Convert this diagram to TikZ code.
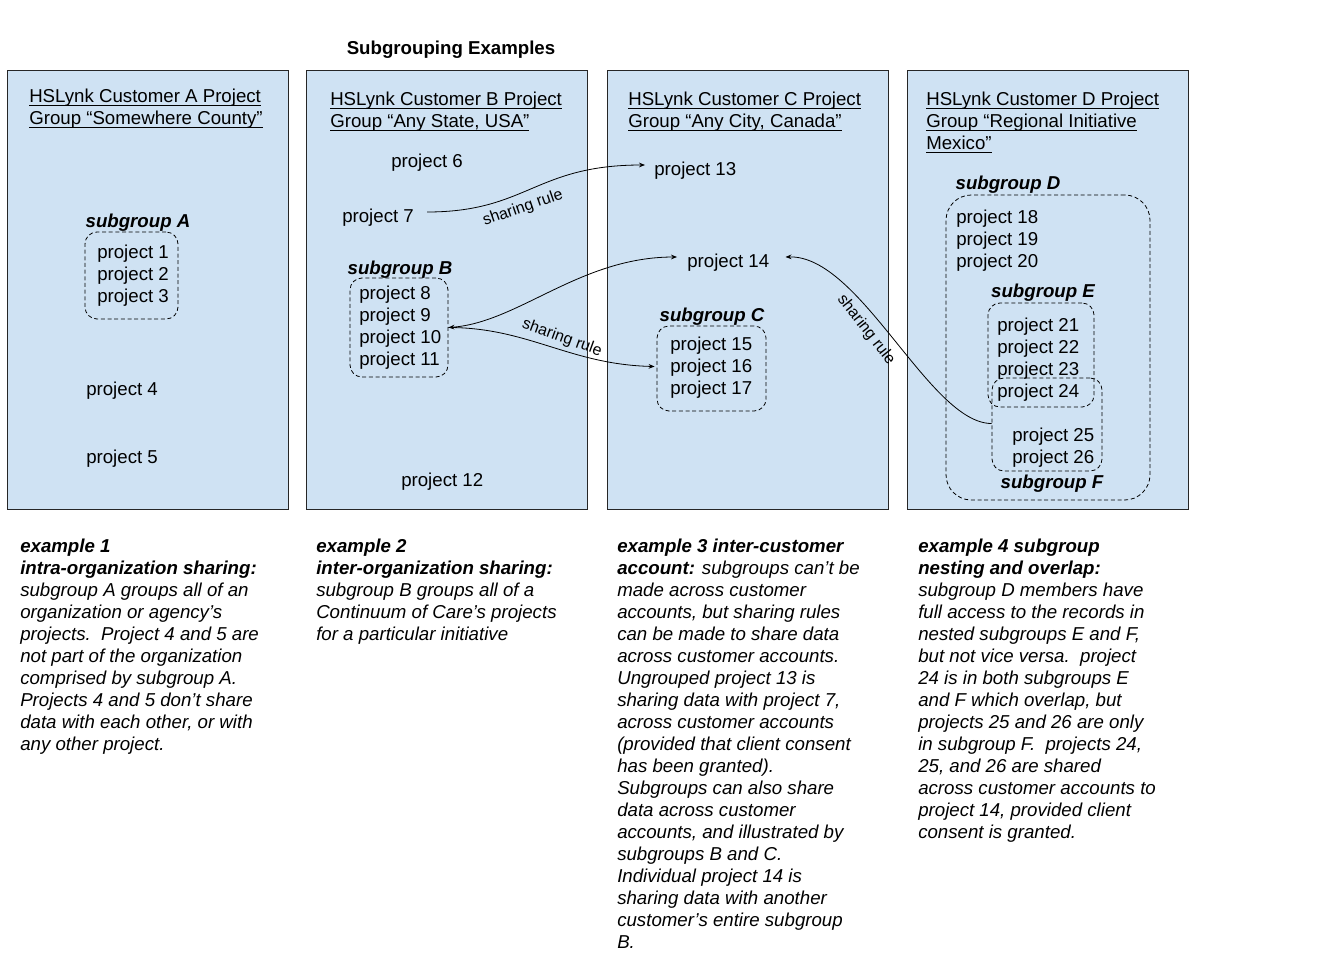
\documentclass[tikz,border=0pt]{standalone}
\usepackage{fontspec}
\setmainfont{Liberation Sans}
\usepackage{xcolor}
\usepackage{tikz}
\usetikzlibrary{calc,arrows.meta}

\definecolor{custblue}{HTML}{CFE2F3}
\newsavebox\ulbox
\newcommand{\ulin}[1]{\sbox\ulbox{#1}\rlap{\rule[-2pt]{\wd\ulbox}{0.65pt}}\usebox\ulbox}

\begin{document}
\begin{tikzpicture}[x=0.75pt,y=-0.75pt,>={Stealth[length=4.5pt,width=3.5pt]},
	every node/.style={inner sep=0pt,font=\fontsize{14}{16.5}\selectfont},
	custbox/.style={draw=black!85,line width=0.75pt,fill=custblue,minimum width=210.75pt,minimum height=329.25pt},
	groupbox/.style={draw,line width=0.6pt,dash pattern=on 3pt off 2pt,rounded corners=9pt},
	proj/.style={anchor=west,yshift=-2.25pt},
	sglabel/.style={font=\fontsize{14}{16.5}\selectfont\bfseries\itshape,yshift=-2.25pt},
	head/.style={anchor=north west,align=left,yshift=-2.25pt},
	note/.style={anchor=north west,align=left,font=\fontsize{14}{16.5}\selectfont\itshape,yshift=-1.5pt},
	rulelabel/.style={font=\fontsize{12}{14}\selectfont},
	share/.style={line width=0.6pt}]
		\path[use as bounding box,fill=white] (0,0) rectangle (1344,960);
		
		\node[font=\fontsize{14}{16.5}\selectfont\bfseries,yshift=-2.25pt] (title) at (451,47) {Subgrouping Examples};
		
		%customer boxes
		\foreach \c/\x in {A/147.5,B/447,C/747.5,D/1047.5}{
			\node[custbox] (cust\c) at (\x,289.5) {};
		}
		\node[head] (headA) at (29,86) {\ulin{HSLynk Customer A Project}\\\ulin{Group “Somewhere County”}};
		\node[head] (headB) at (330,89) {\ulin{HSLynk Customer B Project}\\\ulin{Group “Any State, USA”}};
		\node[head] (headC) at (628,89) {\ulin{HSLynk Customer C Project}\\\ulin{Group “Any City, Canada”}};
		\node[head] (headD) at (926,89) {\ulin{HSLynk Customer D Project}\\\ulin{Group “Regional Initiative}\\\ulin{Mexico”}};
		
		%subgroups
		\node[groupbox,minimum width=69.75pt,minimum height=65.25pt] (sgA) at (131.5,275.5) {};
		\node[groupbox,minimum width=73.5pt,minimum height=74.25pt] (sgB) at (399,327.5) {};
		\node[groupbox,minimum width=81.75pt,minimum height=63.75pt] (sgC) at (711.5,368.5) {};
		\node[groupbox,rounded corners=19pt,minimum width=153pt,minimum height=228.75pt] (sgD) at (1048,347.5) {};
		\node[groupbox,minimum width=79.5pt,minimum height=78pt] (sgE) at (1041,355) {};
		\node[groupbox,minimum width=82.5pt,minimum height=69.75pt] (sgF) at (1047,424.5) {};
		
		\node[sglabel] (labA) at (138,220) {subgroup A};
		\node[sglabel] (labB) at (400,267) {subgroup B};
		\node[sglabel] (labC) at (712,314) {subgroup C};
		\node[sglabel] (labD) at (1008,182) {subgroup D};
		\node[sglabel] (labE) at (1043,290) {subgroup E};
		\node[sglabel] (labF) at (1052,481) {subgroup F};
		
		%projects
		\foreach \n [count=\i] in {1,2,3}
			\node[proj] (p\n) at (97,{251+22*(\i-1)}) {project \n};
		\node[proj] (p4) at (86,388) {project 4};
		\node[proj] (p5) at (86,456) {project 5};
		\node[proj] (p6) at (391,160) {project 6};
		\node[proj] (p7) at (342,215) {project 7};
		\foreach \n [count=\i] in {8,9,10,11}
			\node[proj] (p\n) at (359,{292+22*(\i-1)}) {project \n};
		\node[proj] (p12) at (401,479) {project 12};
		\node[proj] (p13) at (654,168) {project 13};
		\node[proj] (p14) at (687,260) {project 14};
		\foreach \n [count=\i] in {15,16,17}
			\node[proj] (p\n) at (670,{343+22*(\i-1)}) {project \n};
		\foreach \n [count=\i] in {18,19,20}
			\node[proj] (p\n) at (956,{216+22*(\i-1)}) {project \n};
		\foreach \n [count=\i] in {21,22,23,24}
			\node[proj] (p\n) at (997,{324+22*(\i-1)}) {project \n};
		\node[proj] (p25) at (1012,434) {project 25};
		\node[proj] (p26) at (1012,456) {project 26};
		
		%arrows:
		\draw[share,->] ($(p7.east)+(13,-6)$) .. controls +(100,0) and +(-110,0) .. ($(p13.west)+(-9,-6)$);
		\draw[share,<->] (sgB.east) .. controls +(70,-5) and +(-97,0) .. ($(p14.west)+(-10,-6)$);
		\draw[share,->] (sgB.east) .. controls +(80,0) and +(-85,-2) .. ($(sgC.west)+(-2,-2)$);
		\draw[share,->] ($(sgF.west)+(0,-1)$) .. controls +(-62,0) and +(75,-2) .. ($(p14.east)+(16,-6)$);
		\node[rulelabel,rotate=19] (rule1) at (523,208) {sharing rule};
		\node[rulelabel,rotate=-20] (rule2) at (562,338) {sharing rule};
		\node[rulelabel,rotate=-52] (rule3) at (866,330) {sharing rule};
		
		%examples
		\node[note] (ex1) at (20,537) {{\bfseries example 1}\\{\bfseries intra-organization sharing:}\\subgroup A groups all of an\\organization or agency’s\\projects.\ \ Project 4 and 5 are\\not part of the organization\\comprised by subgroup A.\\Projects 4 and 5 don’t share\\data with each other, or with\\any other project.};
		\node[note] (ex2) at (316,537) {{\bfseries example 2}\\{\bfseries inter-organization sharing:}\\subgroup B groups all of a\\Continuum of Care’s projects\\for a particular initiative};
		\node[note] (ex3) at (617,537) {{\bfseries example 3 inter-customer}\\{\bfseries account:} subgroups can’t be\\made across customer\\accounts, but sharing rules\\can be made to share data\\across customer accounts.\\Ungrouped project 13 is\\sharing data with project 7,\\across customer accounts\\(provided that client consent\\has been granted).\\Subgroups can also share\\data across customer\\accounts, and illustrated by\\subgroups B and C.\\Individual project 14 is\\sharing data with another\\customer’s entire subgroup\\B.};
		\node[note] (ex4) at (918,537) {{\bfseries example 4 subgroup}\\{\bfseries nesting and overlap:}\\subgroup D members have\\full access to the records in\\nested subgroups E and F,\\but not vice versa.\ \ project\\24 is in both subgroups E\\and F which overlap, but\\projects 25 and 26 are only\\in subgroup F.\ \ projects 24,\\25, and 26 are shared\\across customer accounts to\\project 14, provided client\\consent is granted.};
\end{tikzpicture}
\end{document}
